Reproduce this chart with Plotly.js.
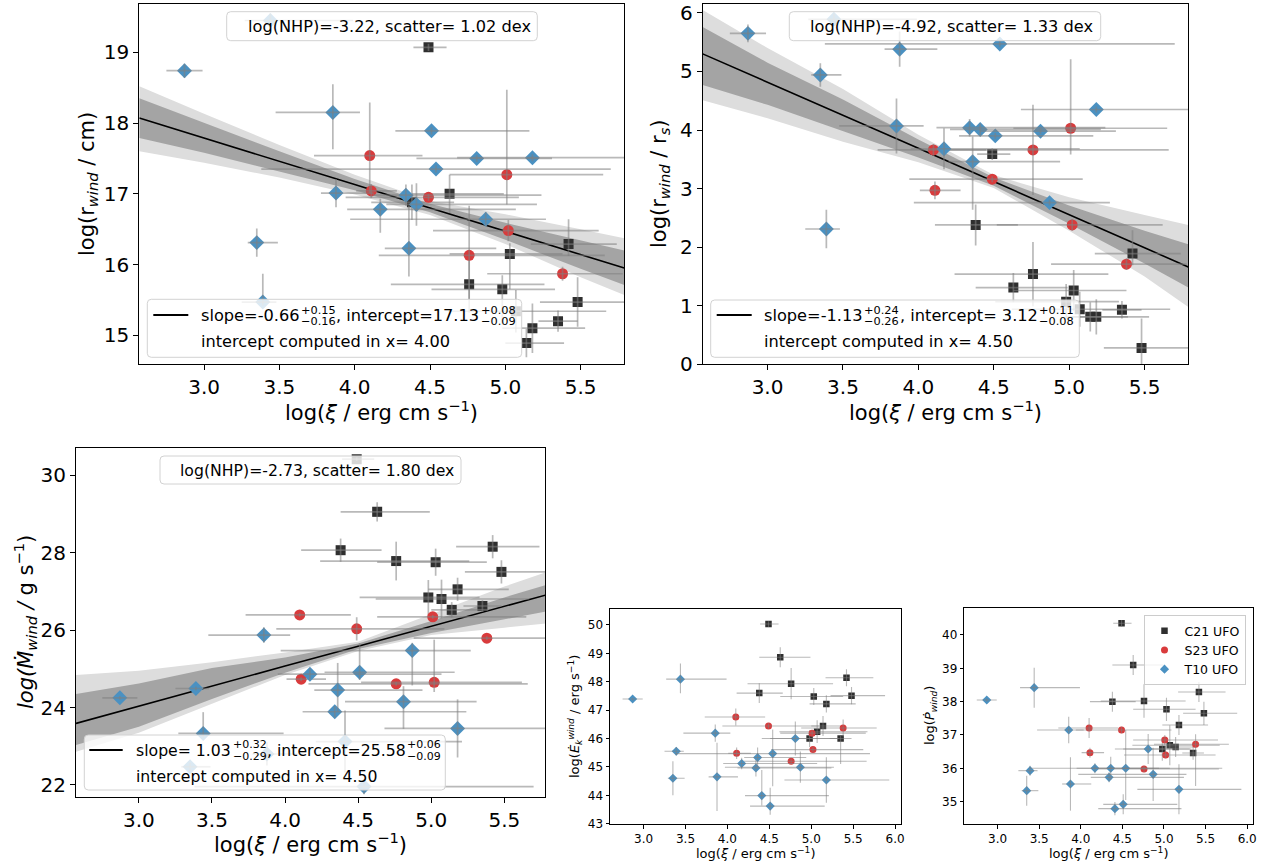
<!DOCTYPE html>
<html><head><meta charset="utf-8">
<script src="https://cdn.plot.ly/plotly-3.0.1.min.js"></script>
<style>html,body{margin:0;padding:0;background:#fff;}#chart{width:1271px;height:868px;}</style>
</head><body><div id="chart"></div>
<script>
// ---------------- DATA ----------------
// C21 UFO (squares)
const c21Xi   = [4.49, 4.63, 4.76, 4.38, 5.03, 5.18, 5.42, 5.48, 5.14, 5.07, 4.98, 5.35];
const c21XiLo = [0.10, 0.25, 0.52, 0.27, 0.40, 0.20, 0.25, 0.25, 0.14, 0.45, 0.47, 0.13];
const c21XiHi = [0.12, 0.36, 0.50, 0.28, 0.35, 0.35, 0.32, 0.40, 0.25, 0.60, 0.35, 0.13];
const c21Rw   = [19.07, 17.00, 15.72, 16.88, 16.15, 15.10, 16.29, 15.47, 14.89, 15.34, 15.65, 15.20];
const c21RwUp = [0.05, 0.27, 0.40, 0.25, 0.15, 0.35, 0.35, 0.35, 0.20, 0.30, 0.20, 0.15];
const c21RwDn = [0.05, 0.27, 0.40, 0.25, 0.50, 0.35, 0.17, 0.35, 0.20, 0.30, 0.50, 0.15];
const c21Rs   = [3.59, 1.31, 1.54, 2.38, 1.26, 0.81, 1.89, 0.28, 0.81, 0.94, 1.07, 0.93];
const c21RsUp = [0.10, 0.25, 0.55, 0.35, 0.35, 0.30, 0.40, 0.50, 0.25, 0.30, 0.30, 0.15];
const c21RsDn = [0.10, 0.25, 0.55, 0.35, 0.35, 0.30, 0.20, 0.50, 0.25, 0.30, 0.30, 0.15];
const c21Md   = [30.41, 29.05, 27.78, 28.06, 27.75, 27.05, 28.15, 27.50, 26.52, 26.80, 26.84, 26.62];
const c21MdUp = [0.05, 0.25, 0.50, 0.30, 0.35, 0.30, 0.30, 0.30, 0.20, 0.50, 0.45, 0.15];
const c21MdDn = [0.05, 0.25, 0.50, 0.30, 0.35, 0.30, 0.30, 0.30, 0.20, 0.50, 0.45, 0.15];
const c21Ek   = [50.03, 48.86, 47.93, 47.60, 47.48, 47.22, 48.14, 47.51, 46.44, 46.24, 46.00, 46.00];
const c21EkUp = [0.10, 0.35, 0.55, 0.35, 0.30, 0.30, 0.30, 0.30, 0.35, 0.40, 0.30, 0.10];
const c21EkDn = [0.10, 0.35, 0.55, 0.35, 0.30, 0.30, 0.30, 0.30, 0.35, 0.40, 0.30, 0.90];
const c21Pd   = [40.35, 39.10, 38.02, 38.00, 37.77, 37.30, 38.29, 37.65, 36.64, 36.69, 36.58, 36.46];
const c21PdUp = [0.10, 0.30, 0.50, 0.30, 0.35, 0.30, 0.30, 0.35, 0.30, 0.60, 0.35, 0.20];
const c21PdDn = [0.10, 0.30, 0.50, 0.30, 0.35, 0.30, 0.30, 0.35, 0.30, 0.60, 0.35, 0.20];

// S23 UFO (circles)
const s23Xi   = [4.10, 4.11, 4.49, 4.76, 5.01, 5.02, 5.38];
const s23XiLo = [0.37, 0.10, 0.55, 0.60, 0.38, 0.50, 0.50];
const s23XiHi = [0.35, 0.17, 0.60, 0.90, 0.64, 0.60, 0.40];
const s23Rw   = [17.54, 17.04, 16.95, 16.13, 17.27, 16.48, 15.87];
const s23RwUp = [0.75, 0.10, 0.05, 0.70, 1.20, 0.15, 0.10];
const s23RwDn = [0.53, 0.10, 0.05, 0.62, 0.42, 0.15, 0.10];
const s23Rs   = [3.66, 2.97, 3.16, 3.66, 4.03, 2.38, 1.71];
const s23RsUp = [0.10, 0.15, 0.05, 0.77, 1.18, 0.10, 0.10];
const s23RsDn = [0.10, 0.15, 0.05, 0.77, 0.45, 0.10, 0.10];
const s23Md   = [26.39, 24.73, 26.03, 24.61, 26.34, 24.65, 25.79];
const s23MdUp = [0.05, 0.05, 0.30, 0.05, 0.05, 1.10, 0.05];
const s23MdDn = [0.05, 0.05, 0.30, 0.05, 0.05, 0.25, 0.05];
const s23Ek   = [46.76, 45.48, 46.44, 45.20, 46.19, 45.61, 46.37];
const s23EkUp = [0.30, 0.20, 0.10, 0.10, 0.10, 0.10, 0.30];
const s23EkDn = [0.30, 0.20, 0.10, 0.10, 0.10, 0.10, 0.30];
const s23Pd   = [37.21, 36.47, 37.15, 35.98, 36.85, 36.40, 36.72];
const s23PdUp = [0.30, 0.15, 0.10, 0.10, 0.15, 0.10, 0.30];
const s23PdDn = [0.30, 0.15, 0.10, 0.10, 0.15, 0.10, 1.25];

// T10 UFO (diamonds)
const t10Xi   = [2.87, 3.44, 3.855, 3.876, 3.35, 3.39, 4.17, 4.34, 4.36, 4.41, 4.51, 4.54, 4.81, 4.87, 5.18];
const t10XiLo = [0.12, 0.17, 0.38, 0.10, 0.06, 0.14, 0.22, 0.22, 0.16, 0.20, 0.24, 1.16, 0.40, 0.90, 0.50];
const t10XiHi = [0.12, 0.55, 0.18, 0.25, 0.14, 0.09, 0.90, 0.90, 0.58, 0.80, 0.65, 1.16, 0.50, 0.40, 0.75];
const t10Rw   = [18.74, 19.45, 18.15, 17.01, 16.31, 15.47, 16.78, 16.98, 16.23, 16.85, 17.89, 17.35, 17.50, 16.64, 17.51];
const t10RwUp = [0.10, 0.10, 0.40, 0.20, 0.20, 0.40, 0.15, 0.15, 0.60, 0.30, 0.05, 0.05, 0.05, 0.10, 0.05];
const t10RwDn = [0.10, 0.10, 0.52, 0.20, 0.20, 0.05, 0.33, 0.15, 0.40, 0.30, 0.05, 0.05, 0.05, 0.10, 0.05];
const t10Rs   = [5.65, 5.89, 4.07, 5.38, 4.94, 2.31, 3.68, 4.04, 3.46, 4.01, 3.90, 5.47, 3.98, 2.76, 4.35];
const t10RsUp = [0.15, 0.10, 0.47, 0.30, 0.20, 0.33, 0.35, 0.15, 0.43, 0.10, 0.05, 0.05, 0.05, 0.05, 0.05];
const t10RsDn = [0.15, 0.10, 0.47, 0.30, 0.20, 0.33, 0.35, 0.15, 0.82, 0.10, 0.05, 0.05, 0.05, 0.05, 0.05];
const t10Md   = [24.25, 23.33, 25.87, 22.80, 22.47, 24.49, 24.86, 23.89, 24.45, 23.12, 24.91, 21.96, 24.15, 25.47, 23.46];
const t10MdUp = [0.05, 0.55, 0.20, 0.30, 0.10, 0.05, 0.15, 0.15, 0.70, 0.80, 0.75, 0.20, 0.40, 0.20, 0.75];
const t10MdDn = [0.05, 0.10, 0.20, 0.30, 0.10, 0.05, 0.15, 0.15, 0.55, 0.80, 0.20, 0.20, 0.70, 0.90, 0.75];
const t10Ek   = [47.39, 48.09, 46.19, 44.65, 44.60, 45.55, 45.12, 44.96, 45.33, 43.99, 43.62, 45.47, 46.00, 44.99, 44.54];
const t10EkUp = [0.05, 0.55, 0.30, 1.20, 0.60, 0.15, 0.20, 0.30, 0.35, 0.90, 0.65, 0.85, 0.60, 0.55, 0.80];
const t10EkDn = [0.05, 0.50, 0.30, 1.20, 0.60, 0.15, 0.20, 0.30, 0.35, 0.35, 0.30, 1.15, 0.60, 0.55, 0.80];
const t10Pd   = [38.05, 38.42, 37.15, 35.53, 35.33, 35.93, 36.00, 35.73, 36.00, 34.79, 34.92, 36.00, 36.58, 35.82, 35.37];
const t10PdUp = [0.05, 0.60, 0.40, 0.80, 0.45, 0.15, 0.15, 0.15, 0.35, 0.20, 0.30, 1.15, 0.45, 0.80, 0.75];
const t10PdDn = [0.05, 0.60, 0.40, 0.80, 0.45, 0.15, 0.15, 0.15, 0.35, 0.20, 0.30, 0.95, 0.45, 0.80, 0.75];

// Fit lines and credible bands (read at these xi positions)
const fitX = [2.57, 3.0, 3.5, 4.0, 4.5, 5.0, 5.5, 5.79];
const rwLine    = [18.07, 17.79, 17.46, 17.13, 16.80, 16.47, 16.14, 15.95];
const rwDarkHi  = [18.35, 18.00, 17.60, 17.21, 16.86, 16.59, 16.34, 16.20];
const rwDarkLo  = [17.79, 17.58, 17.32, 17.05, 16.74, 16.35, 15.94, 15.71];
const rwLightHi = [18.52, 18.13, 17.69, 17.27, 16.90, 16.71, 16.50, 16.37];
const rwLightLo = [17.60, 17.44, 17.23, 16.99, 16.70, 16.29, 15.82, 15.57];
const rsLine    = [5.30, 4.82, 4.25, 3.69, 3.12, 2.56, 1.99, 1.66];
const rsDarkHi  = [5.76, 5.15, 4.52, 3.84, 3.19, 2.71, 2.28, 2.05];
const rsDarkLo  = [4.77, 4.43, 3.98, 3.53, 3.05, 2.40, 1.72, 1.31];
const rsLightHi = [6.05, 5.40, 4.70, 3.92, 3.23, 2.85, 2.55, 2.38];
const rsLightLo = [4.51, 4.20, 3.80, 3.45, 3.01, 2.28, 1.50, 0.98];
const mdLine    = [23.59, 24.04, 24.55, 25.07, 25.58, 26.10, 26.61, 26.91];
const mdDarkHi  = [24.35, 24.62, 25.02, 25.29, 25.65, 26.23, 26.84, 27.17];
const mdDarkLo  = [23.03, 23.50, 24.22, 24.90, 25.51, 25.92, 26.28, 26.48];
const mdLightHi = [24.84, 24.95, 25.17, 25.42, 25.70, 26.40, 27.12, 27.50];
const mdLightLo = [22.86, 23.35, 24.10, 24.84, 25.46, 25.87, 26.06, 26.17];

// Texts
const seriesNames = ['C21 UFO', 'S23 UFO', 'T10 UFO'];
const nhpLabels = ['log(NHP)=-3.22, scatter= 1.02 dex', 'log(NHP)=-4.92, scatter= 1.33 dex', 'log(NHP)=-2.73, scatter= 1.80 dex'];
const slopeLabels = ['slope=-0.66', 'slope=-1.13', 'slope= 1.03'];
const slopeUp = ['+0.15', '+0.24', '+0.32'];
const slopeDn = ['−0.16', '−0.26', '−0.29'];
const interceptLabels = [', intercept=17.13', ', intercept= 3.12', ', intercept=25.58'];
const interceptUp = ['+0.08', '+0.11', '+0.06'];
const interceptDn = ['−0.09', '−0.08', '−0.09'];
const pivotLabels = ['intercept computed in x= 4.00', 'intercept computed in x= 4.50', 'intercept computed in x= 4.50'];
const xTitle = 'log(<i>ξ</i> / erg cm s<sup>−1</sup>)';
const yTitles = [
  'log(r<sub><i>wind</i></sub> / cm)',
  'log(r<sub><i>wind</i></sub> / r<sub><i>s</i></sub>)',
  '<i>log(Ṁ</i><sub><i>wind</i></sub><i> / </i>g s<sup>−1</sup>)',
  'log(<i>Ė</i><sub><i>k</i></sub><sup><i>wind</i></sup> / erg s<sup>−1</sup>)',
  'log(<i>Ṗ</i><sub><i>wind</i></sub>)'
];

// ---------------- LAYOUT HELPERS ----------------
const W = 1271, H = 868;
const FONT = 'DejaVu Sans';
const PX = v => v / W, PY = v => 1 - v / H;
const ERR = 'rgba(128,128,128,0.55)';
const STY = [
  {symbol: 'square', size: 10, sizeS: 6.5, color: '#2f2f2f'},
  {symbol: 'circle', size: 11, sizeS: 7, color: '#d93b3c'},
  {symbol: 'diamond', size: 11.5, sizeS: 7, color: '#4a91c2'}
];
const measureCtx = document.createElement('canvas').getContext('2d');
function textWidth(t, size) { measureCtx.font = size + 'px "DejaVu Sans"'; return measureCtx.measureText(t).width; }

const data = [];
const layout = {
  width: W, height: H, margin: {l: 0, r: 0, t: 0, b: 0},
  paper_bgcolor: 'white', plot_bgcolor: 'white',
  font: {family: FONT, color: 'black'},
  showlegend: true,
  legend: {x: PX(1143.5), y: PY(615), xanchor: 'left', yanchor: 'top',
           bgcolor: 'rgba(255,255,255,0.8)', bordercolor: '#cccccc', borderwidth: 1,
           font: {family: FONT, size: 12.5, color: 'black'}, itemwidth: 30, tracegroupgap: 0},
  shapes: [], annotations: []
};

function axes(n, box, xr, yr, ydt, small) {
  const s = n === 1 ? '' : String(n);
  const common = {showgrid: false, zeroline: false, showline: true, mirror: true, linecolor: 'black', linewidth: 1,
    ticks: 'outside', ticklen: small ? 3.5 : 5, tickwidth: 1, tickcolor: 'black',
    tickfont: {family: FONT, size: small ? 12 : 20, color: 'black'}, automargin: false, fixedrange: true};
  layout['xaxis' + s] = Object.assign({domain: [PX(box[0]), PX(box[2])], range: xr, anchor: 'y' + s,
    tick0: 3, dtick: 0.5, tickformat: '.1f'}, common);
  layout['yaxis' + s] = Object.assign({domain: [PY(box[3]), PY(box[1])], range: yr, anchor: 'x' + s,
    tick0: 0, dtick: ydt}, common);
}

function bands(n, lightHi, lightLo, darkHi, darkLo, line) {
  const s = n === 1 ? '' : String(n);
  const xs = fitX.concat(fitX.slice().reverse());
  const base = {type: 'scatter', mode: 'lines', xaxis: 'x' + s, yaxis: 'y' + s, hoverinfo: 'skip', showlegend: false};
  data.push(Object.assign({x: xs, y: lightHi.concat(lightLo.slice().reverse()), fill: 'toself',
    fillcolor: 'rgb(221,221,221)', line: {width: 0, color: 'rgba(0,0,0,0)'}}, base));
  data.push(Object.assign({x: xs, y: darkHi.concat(darkLo.slice().reverse()), fill: 'toself',
    fillcolor: 'rgb(164,164,164)', line: {width: 0, color: 'rgba(0,0,0,0)'}}, base));
  data.push(Object.assign({x: fitX, y: line, line: {color: 'black', width: 1.6}}, base));
}

function series(n, k, xv, xlo, xhi, yv, yup, ydn, small, leg) {
  const s = n === 1 ? '' : String(n);
  const st = STY[k];
  data.push({type: 'scatter', mode: 'markers', name: seriesNames[k], legendgroup: seriesNames[k],
    x: xv, y: yv, xaxis: 'x' + s, yaxis: 'y' + s, hoverinfo: 'skip', showlegend: leg,
    marker: {symbol: st.symbol, size: small ? st.sizeS : st.size, color: st.color, line: {width: 0}}});
  data.push({type: 'scatter', mode: 'markers', x: xv, y: yv, xaxis: 'x' + s, yaxis: 'y' + s,
    hoverinfo: 'skip', showlegend: false, marker: {size: 1, opacity: 0},
    error_x: {type: 'data', symmetric: false, array: xhi, arrayminus: xlo, color: ERR, thickness: small ? 1.1 : 1.7, width: 0},
    error_y: {type: 'data', symmetric: false, array: yup, arrayminus: ydn, color: ERR, thickness: small ? 1.1 : 1.7, width: 0}});
}

function roundRect(x0, y0, x1, y1, r) {
  const X = PX, Y = PY;
  return `M${X(x0 + r)},${Y(y0)} L${X(x1 - r)},${Y(y0)} Q${X(x1)},${Y(y0)} ${X(x1)},${Y(y0 + r)} ` +
    `L${X(x1)},${Y(y1 - r)} Q${X(x1)},${Y(y1)} ${X(x1 - r)},${Y(y1)} L${X(x0 + r)},${Y(y1)} ` +
    `Q${X(x0)},${Y(y1)} ${X(x0)},${Y(y1 - r)} L${X(x0)},${Y(y0 + r)} Q${X(x0)},${Y(y0)} ${X(x0 + r)},${Y(y0)} Z`;
}
function box(b) {
  layout.shapes.push({type: 'path', xref: 'paper', yref: 'paper', path: roundRect(b[0], b[1], b[2], b[3], 4),
    fillcolor: 'rgba(255,255,255,0.8)', line: {color: 'rgb(210,210,210)', width: 1}, layer: 'above'});
}
function ann(text, x, y, size, opts) {
  layout.annotations.push(Object.assign({text: text, xref: 'paper', yref: 'paper', x: PX(x), y: PY(y),
    showarrow: false, xanchor: 'left', yanchor: 'middle', borderpad: 0,
    font: {family: FONT, size: size, color: 'black'}}, opts || {}));
}

// ---------------- PANELS ----------------
const boxes = [[139.3, 3.5, 624.3, 364.3], [702.7, 3.5, 1188.3, 364.3], [76, 448.3, 545.3, 797],
               [610, 609.3, 901, 824.3], [964.3, 608.3, 1253, 824]];
axes(1, boxes[0], [2.57, 5.79], [14.59, 19.69], 1, false);
axes(2, boxes[1], [2.57, 5.79], [0, 6.16], 1, false);
axes(3, boxes[2], [2.57, 5.78], [21.69, 30.69], 2, false);
axes(4, boxes[3], [2.6, 6.07], [42.98, 50.55], 1, true);
axes(5, boxes[4], [2.6, 6.07], [34.33, 40.8], 1, true);

bands(1, rwLightHi, rwLightLo, rwDarkHi, rwDarkLo, rwLine);
bands(2, rsLightHi, rsLightLo, rsDarkHi, rsDarkLo, rsLine);
bands(3, mdLightHi, mdLightLo, mdDarkHi, mdDarkLo, mdLine);

const yC21 = [[c21Rw, c21RwUp, c21RwDn], [c21Rs, c21RsUp, c21RsDn], [c21Md, c21MdUp, c21MdDn], [c21Ek, c21EkUp, c21EkDn], [c21Pd, c21PdUp, c21PdDn]];
const yS23 = [[s23Rw, s23RwUp, s23RwDn], [s23Rs, s23RsUp, s23RsDn], [s23Md, s23MdUp, s23MdDn], [s23Ek, s23EkUp, s23EkDn], [s23Pd, s23PdUp, s23PdDn]];
const yT10 = [[t10Rw, t10RwUp, t10RwDn], [t10Rs, t10RsUp, t10RsDn], [t10Md, t10MdUp, t10MdDn], [t10Ek, t10EkUp, t10EkDn], [t10Pd, t10PdUp, t10PdDn]];
for (let p = 0; p < 5; p++) {
  const small = p >= 3, leg = p === 4;
  series(p + 1, 0, c21Xi, c21XiLo, c21XiHi, yC21[p][0], yC21[p][1], yC21[p][2], small, leg);
  series(p + 1, 1, s23Xi, s23XiLo, s23XiHi, yS23[p][0], yS23[p][1], yS23[p][2], small, leg);
  series(p + 1, 2, t10Xi, t10XiLo, t10XiHi, yT10[p][0], yT10[p][1], yT10[p][2], small, leg);
}

// text boxes (top) and fit legends (bottom) for the three fitted panels
const nhpBox = [[226.7, 11.7, 537.3, 40.7], [789.3, 11.7, 1100.7, 40.7], [160, 456, 461, 484]];
const nhpPos = [[246.5, 26], [809.5, 26], [179, 470]];
const legBox = [[147.3, 299.3, 521.7, 357.3], [710.7, 300, 1079.3, 357.3], [84.3, 735, 445.3, 790]];
const legPos = [ // sampleX0, sampleX1, row1Y, textX, row2Y
  [153.3, 188.3, 315, 200, 341.7],
  [716.7, 751.7, 315, 763.3, 341.7],
  [89.3, 122.7, 750, 135.3, 776]
];
const txtSize = [16.2, 16.2, 15.7];
for (let i = 0; i < 3; i++) {
  const fs = txtSize[i], ss = fs * 0.7;
  box(nhpBox[i]);
  ann(nhpLabels[i], nhpPos[i][0], nhpPos[i][1], fs);
  box(legBox[i]);
  const L = legPos[i];
  layout.shapes.push({type: 'line', xref: 'paper', yref: 'paper', x0: PX(L[0]), x1: PX(L[1]), y0: PY(L[2]), y1: PY(L[2]),
    line: {color: 'black', width: 2.2}, layer: 'above'});
  // chain the pieces like mathtext does (stacked super/subscripts)
  let cx = L[3];
  ann(slopeLabels[i], cx, L[2], fs);
  cx += textWidth(slopeLabels[i], fs) + 1.5;
  ann(slopeUp[i], cx, L[2] - 5.5, ss);
  ann(slopeDn[i], cx, L[2] + 6, ss);
  cx += Math.max(textWidth(slopeUp[i], ss), textWidth(slopeDn[i], ss)) + 0.5;
  ann(interceptLabels[i], cx, L[2], fs);
  cx += textWidth(interceptLabels[i], fs) + 1.5;
  ann(interceptUp[i], cx, L[2] - 5.5, ss);
  ann(interceptDn[i], cx, L[2] + 6, ss);
  ann(pivotLabels[i], L[3], L[4], fs);
}

// axis titles
const xTitlePos = [[381.8, 411], [945.5, 411], [310.7, 843], [755.5, 853], [1108.7, 853]];
const yTitlePos = [[88, 184], [660, 184], [25, 622], [575, 717], [930, 716]];
for (let p = 0; p < 5; p++) {
  const sz = p >= 3 ? 13 : 21;
  ann(xTitle, xTitlePos[p][0], xTitlePos[p][1], sz, {xanchor: 'center'});
  ann(yTitles[p], yTitlePos[p][0], yTitlePos[p][1], sz, {xanchor: 'center', textangle: -90});
}

Plotly.newPlot('chart', data, layout, {staticPlot: true, displayModeBar: false});
</script></body></html>
